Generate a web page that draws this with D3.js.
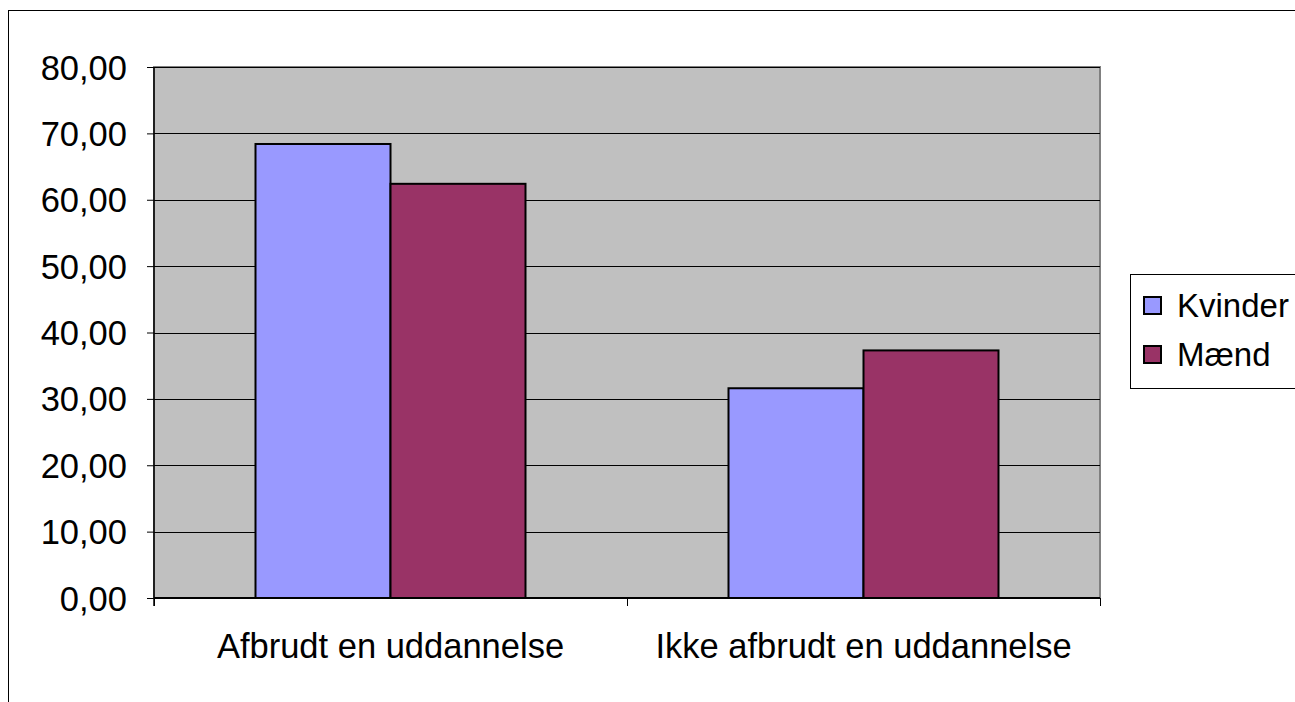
<!DOCTYPE html>
<html>
<head>
<meta charset="utf-8">
<script src="https://cdn.jsdelivr.net/npm/d3@7"></script>
<style>
  body { margin: 0; background: #fff; }
  text { font-family: "Liberation Sans", Arial, sans-serif; fill: #000; }
</style>
</head>
<body>
<svg></svg>
<script>
const categories = ["Afbrudt en uddannelse", "Ikke afbrudt en uddannelse"]
const series = ["Kvinder", "Mænd"]
const kvinder = [68.4, 31.6]
const maend = [62.4, 37.3]
const yTicks = [0, 10, 20, 30, 40, 50, 60, 70, 80]
const colors = ["#9999FF", "#993366"]

const width = 1295
const height = 702
const plot = { left: 154, right: 1100, top: 67, bottom: 598 }
const fontSize = 34.5

const svg = d3.select("svg").attr("width", width).attr("height", height)

// outer chart border
svg.append("rect")
  .attr("x", 8.5).attr("y", 10.5)
  .attr("width", width + 20).attr("height", height + 20)
  .attr("fill", "white").attr("stroke", "black").attr("stroke-width", 1)

let x = d3.scaleBand(categories, [plot.left, plot.right])
let y = d3.scaleLinear([0, 80], [plot.bottom, plot.top])
let xs = d3.scaleBand(series, [0, 270])

// plot area
svg.append("rect")
  .attr("x", plot.left).attr("y", plot.top)
  .attr("width", plot.right - plot.left).attr("height", plot.bottom - plot.top)
  .attr("fill", "#C0C0C0").attr("stroke", "#808080").attr("stroke-width", 2)

// gridlines
svg.selectAll("line.grid").data(yTicks.filter(d => d > 0)).join("line")
  .attr("x1", plot.left).attr("x2", plot.right)
  .attr("y1", d => Math.round(y(d)) + 0.5).attr("y2", d => Math.round(y(d)) + 0.5)
  .attr("stroke", "#000").attr("stroke-width", 1)

// y axis
let yAxis = d3.axisLeft(y).tickValues(yTicks).tickSize(7)
  .tickFormat(d => d3.format(".2f")(d).replace(".", ","))
let gy = svg.append("g").attr("transform", `translate(${plot.left},0)`).call(yAxis)
  .attr("font-size", fontSize).attr("font-family", null)
gy.select(".domain").remove()
gy.selectAll(".tick line").attr("stroke", "#000")
gy.selectAll(".tick text").attr("x", -27).attr("dy", "0.35em")

// bars
let rows = categories.map((c, i) => ({ cat: c, values: [kvinder[i], maend[i]] }))
let groups = svg.selectAll("g.grp").data(rows).join("g")
  .attr("transform", d => `translate(${x(d.cat) + x.bandwidth() / 2 - 135},0)`)
groups.selectAll("rect").data(d => d.values.map((v, j) => ({ v, s: series[j], j }))).join("rect")
  .attr("x", d => xs(d.s))
  .attr("y", d => y(d.v))
  .attr("width", xs.bandwidth())
  .attr("height", d => y(0) - y(d.v))
  .attr("fill", d => colors[d.j])
  .attr("stroke", "#000").attr("stroke-width", 2)

// x axis
svg.append("line")
  .attr("x1", plot.left).attr("x2", plot.right)
  .attr("y1", plot.bottom).attr("y2", plot.bottom)
  .attr("stroke", "#000").attr("stroke-width", 2)
svg.append("line")
  .attr("x1", plot.left).attr("x2", plot.left)
  .attr("y1", plot.top).attr("y2", plot.bottom + 8)
  .attr("stroke", "#000").attr("stroke-width", 1.5)
let xAxis = d3.axisBottom(x).tickSize(0)
let gx = svg.append("g").attr("transform", `translate(0,${plot.bottom})`).call(xAxis)
  .attr("font-size", fontSize).attr("font-family", null)
gx.select(".domain").remove()
gx.selectAll(".tick text").attr("y", 60).attr("dy", 0)
svg.selectAll("line.xtick").data([plot.left, ...categories.map(c => x(c) + x.bandwidth())]).join("line")
  .attr("x1", d => Math.round(d) + 0.5).attr("x2", d => Math.round(d) + 0.5)
  .attr("y1", plot.bottom).attr("y2", plot.bottom + 8)
  .attr("stroke", "#000")

// legend
let legend = svg.append("g").attr("transform", "translate(1130,274)")
legend.append("rect").attr("x", 0.5).attr("y", 0.5).attr("width", 170).attr("height", 114)
  .attr("fill", "white").attr("stroke", "#000")
let items = legend.selectAll("g.item").data(series).join("g")
  .attr("transform", (d, i) => `translate(0,${31 + i * 49})`)
items.append("rect").attr("x", 14).attr("y", -8).attr("width", 17).attr("height", 17)
  .attr("fill", (d, i) => colors[i]).attr("stroke", "#000").attr("stroke-width", 2)
items.append("text").attr("x", 47).attr("y", 0).attr("dy", "0.35em").attr("font-size", 33).text(d => d)
</script>
</body>
</html>
